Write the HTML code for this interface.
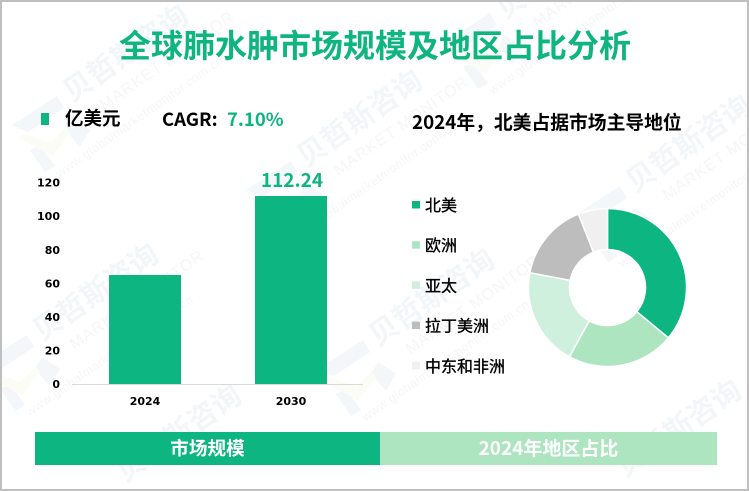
<!DOCTYPE html>
<html lang="zh">
<head>
<meta charset="utf-8">
<title>全球肺水肿市场规模及地区占比分析</title>
<style>
html,body{margin:0;padding:0;background:#fff;overflow:hidden}
body{width:749px;height:491px;overflow:hidden}
svg{display:block}
text{font-family:"Liberation Sans","Noto Sans CJK SC",sans-serif}
.cjk{font-family:"Noto Sans CJK SC",sans-serif}
.tick{font-family:"DejaVu Sans",sans-serif;font-size:11px;font-weight:700;fill:#000}
.wm-a{font-family:"Noto Sans CJK SC",sans-serif;font-size:29px;font-weight:700;fill:#f3f6f9}
.wm-b{font-family:"Liberation Sans",sans-serif;font-size:16px;fill:#f4f6f8;letter-spacing:1px}
.wm-c{font-family:"Liberation Sans",sans-serif;font-size:12.5px;fill:#f5f6f8;letter-spacing:.5px}
</style>
</head>
<body>
<svg id="stage" width="749" height="491" viewBox="0 0 749 491" xmlns="http://www.w3.org/2000/svg">
  <g id="watermarks"></g>
  <rect x="1" y="1" width="747" height="489" fill="none" stroke="#bfbfbf" stroke-width="2"/>

  <text class="cjk" x="375" y="57" text-anchor="middle" font-size="32" font-weight="700" fill="#0fb57f">全球肺水肿市场规模及地区占比分析</text>

  <rect x="41" y="113" width="8" height="12" fill="#0db580"/>
  <text class="cjk" x="65" y="125" font-size="18.5" font-weight="700" fill="#000">亿美元</text>
  <text class="cjk" x="162" y="126" font-size="18.5" font-weight="700" fill="#000">CAGR:</text>
  <text class="cjk" x="227" y="126" font-size="18.5" font-weight="700" fill="#0fb57f">7.10%</text>
  <text class="cjk" x="412" y="129" font-size="18.8" font-weight="700" fill="#000">2024年，北美占据市场主导地位</text>

  <g id="bar-chart"></g>
  <g id="donut-chart"></g>
  <g id="legend"></g>

  <rect x="35" y="432" width="345" height="33" fill="#0db580"/>
  <rect x="380" y="432" width="337" height="33" fill="#aee5c1"/>
  <text class="cjk" x="207.5" y="455" text-anchor="middle" font-size="18.6" font-weight="700" fill="#fff">市场规模</text>
  <text class="cjk" x="548.5" y="455" text-anchor="middle" font-size="19" font-weight="700" fill="#fff">2024年地区占比</text>
</svg>
<script>
const barCategories = ['2024', '2030'];
const barValues = [65, 112.24];
const barValueLabels = ['', '112.24'];
const yTicks = [0, 20, 40, 60, 80, 100, 120];
const regionNames = ['北美', '欧洲', '亚太', '拉丁美洲', '中东和非洲'];
const regionShares = [36, 22, 20, 16, 6];
const regionColors = ['#0db580', '#aee5c1', '#cff0dc', '#bdbdbd', '#f0f0f0'];

const NS = 'http://www.w3.org/2000/svg';
function make(tag, attrs, parent, txt) {
  const el = document.createElementNS(NS, tag);
  for (const k in attrs) el.setAttribute(k, attrs[k]);
  if (txt !== undefined) el.textContent = txt;
  parent.appendChild(el);
  return el;
}

/* bar chart axes */
const baseY = 384, unitPx = 1.678;
const yScale = v => baseY - v * unitPx;
const bandStart = 72, bandWidth = 146, barWidth = 72;
const xCenter = i => bandStart + bandWidth * (i + 0.5);
const barGroup = document.getElementById('bar-chart');

yTicks.forEach(t => {
  const label = make('text', {class: 'tick', x: 60, y: yScale(t) + 4, 'text-anchor': 'end'}, barGroup, String(t));
  
  
});
const axisLine = make('line', {x1: bandStart, x2: bandStart + bandWidth * barCategories.length - 1, y1: baseY + 0.5, y2: baseY + 0.5, stroke: '#d9d9d9', 'stroke-width': 1}, barGroup);



barCategories.forEach((c, i) => {
  const top = Math.round(yScale(barValues[i]));
  const bar = make('rect', {x: xCenter(i) - barWidth / 2, y: top, width: barWidth, height: baseY - top, fill: '#0db580'}, barGroup);
  
  
  const tick = make('text', {class: 'tick', x: xCenter(i), y: 405, 'text-anchor': 'middle'}, barGroup, c);
  
  
  if (barValueLabels[i]) {
    const val = make('text', {class: 'cjk', x: xCenter(i) + 1, y: top - 9, 'text-anchor': 'middle', 'font-size': 19, 'font-weight': 700, fill: '#0fb57f'}, barGroup, barValueLabels[i]);
    
    
  }
});

/* donut */
const cx = 607.5, cy = 287.5, rOuter = 79, rInner = 38;
const donut = document.getElementById('donut-chart');
const total = regionShares.reduce((a, b) => a + b, 0);
const pt = (r, a) => [cx + r * Math.sin(a), cy - r * Math.cos(a)];
let angle = 0;
regionShares.forEach((v, i) => {
  const next = angle + v / total * Math.PI * 2;
  const large = next - angle > Math.PI ? 1 : 0;
  const p1 = pt(rOuter, angle), p2 = pt(rOuter, next), p3 = pt(rInner, next), p4 = pt(rInner, angle);
  const slice = make('path', {
    d: `M${p1[0]} ${p1[1]}A${rOuter} ${rOuter} 0 ${large} 1 ${p2[0]} ${p2[1]}L${p3[0]} ${p3[1]}A${rInner} ${rInner} 0 ${large} 0 ${p4[0]} ${p4[1]}Z`,
    fill: regionColors[i], stroke: '#fff', 'stroke-width': 1.5
  }, donut);
  
  
  angle = next;
});

/* legend */
const legend = document.getElementById('legend');
const legendTop = 205, legendStep = 40.2;
regionNames.forEach((n, i) => {
  const y = legendTop + legendStep * i;
  const swatch = make('rect', {x: 412, y: y - 4, width: 8, height: 7.5, fill: regionColors[i]}, legend);
  
  
  const label = make('text', {class: 'cjk', x: 425, y: y + 6, 'font-size': 16, 'font-weight': 400, fill: '#000', stroke: '#000', 'stroke-width': 0.35}, legend, n);
  
  
});

/* watermark tiles: full tiles, then text-only tiles at the bottom edge */
const wmOrigins = [[72, 103], [306, 168], [42, 342], [635, 193], [378, 347], [505, 20]];
const wmEdgeOrigins = [[125, 483], [625, 478]];
const wmGroup = document.getElementById('watermarks');
wmOrigins.forEach(o => {
  const logo = make('g', {transform: `translate(${o[0]} ${o[1]})`}, wmGroup);
  
  
  make('path', {d: 'M-60 22L-15 -7L-8 5L-44 29Z', fill: '#f3f7fa'}, logo);
  make('path', {d: 'M-42 47L-32 42L-17 63L-27 69Z', fill: '#f3f7fa'}, logo);
  make('path', {d: 'M-7 27L0 15L18 27L8 44Z', fill: '#f3f7fa'}, logo);
  make('path', {d: 'M-54 34L-46 31L-22 40L-6 24L-2 30L-20 54Z', fill: '#fbfcf6'}, logo);
  const g = make('g', {transform: `translate(${o[0]} ${o[1]}) rotate(-35)`}, wmGroup);
  
  
  make('text', {class: 'wm-a', x: 0, y: 0}, g, '贝哲斯咨询');
  make('text', {class: 'wm-b', x: 22, y: 25}, g, 'MARKET MONITOR');
  make('text', {class: 'wm-c', x: -53, y: 54}, g, 'www.globalmarketmonitor.com.cn');
});
wmEdgeOrigins.forEach(o => {
  const g = make('g', {transform: `translate(${o[0]} ${o[1]}) rotate(-35)`}, wmGroup);
  
  
  make('text', {class: 'wm-a', x: 0, y: 0}, g, '贝哲斯咨询');
});
</script>
</body>
</html>
